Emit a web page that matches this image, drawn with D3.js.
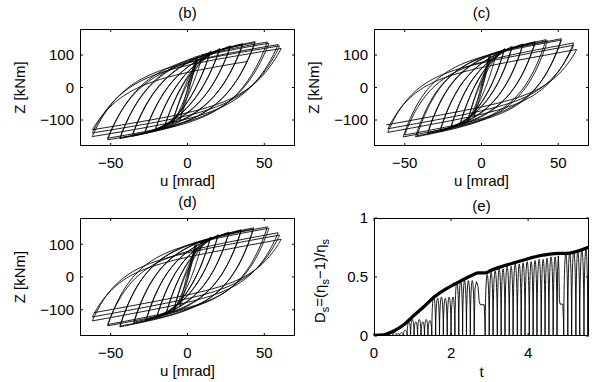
<!DOCTYPE html>
<html><head><meta charset="utf-8">
<script src="https://cdn.jsdelivr.net/npm/d3@7"></script>
<style>
body{margin:0;background:#fff;}
text{font-family:"Liberation Sans",Arial,Helvetica,sans-serif;fill:#000;}
</style>
</head><body>
<svg id="chart" width="599" height="382"></svg>
<script>
// ---------------- data ----------------
const uTicks = [-50, 0, 50];
const zTicks = [-100, 0, 100];
const tTicks = [0, 2, 4];
const dTicks = [0, 0.5, 1];
const uDomain = [-70, 70];
const zDomain = [-180, 180];
const tDomain = [0, 5.58];
const dDomain = [0, 1];

// reversal points [u (mrad), Z (kNm)] of the hysteresis loops
const revB = [[0,0],
 [6,95],[-5,-100],[7,96],
 [-10,-112],[10,103],[-10,-109],
 [15,112],[-15,-122],[15,110],[-15,-119],
 [21,120],[-21,-132],[21,117],[-21,-129],
 [28,128],[-28,-142],[28,125],[-28,-139],
 [36,135],[-36,-150],[36,132],[-36,-147],
 [44,141],[-44,-157],[44,138],[-44,-155],
 [52,140],[-52,-161],[53,136],[-52,-156],
 [59,132],[-62,-151],[60,128],[-62,-140],
 [61,120],[-62,-130],[39,80]];
const revC = [[0,0],
 [5,97],[-5,-92],[6,98],
 [-9,-105],[10,110],[-9,-102],
 [15,120],[-14,-116],[15,117],[-14,-113],
 [20,127],[-20,-125],[20,124],[-20,-122],
 [27,134],[-27,-135],[27,131],[-27,-132],
 [35,141],[-35,-142],[35,138],[-35,-139],
 [42,147],[-42,-149],[43,144],[-43,-152],
 [52,150],[-51,-152],[52,146],[-50,-146],
 [60,137],[-61,-138],[60,130],[-61,-127],
 [62,117],[-62,-115]];
const revD = [[0,0],
 [5,98],[-5,-90],[6,99],
 [-9,-103],[10,112],[-9,-100],
 [15,122],[-14,-114],[15,119],[-14,-111],
 [20,129],[-20,-123],[20,126],[-20,-120],
 [27,137],[-27,-133],[27,134],[-27,-130],
 [35,144],[-35,-141],[35,141],[-35,-138],
 [43,150],[-44,-152],[43,147],[-44,-150],
 [52,153],[-52,-149],[53,149],[-52,-145],
 [59,135],[-62,-134],[60,128],[-62,-122],
 [61,115],[-61,-109]];
// loop shape parameters per panel: [decay length (mrad), post-yield slope]
const shapeB = [19, 0.75];
const shapeC = [16, 0.85];
const shapeD = [16, 0.85];

// (e) upper envelope of D_s
const envT = [0, 0.25, 0.5, 0.79, 1.04, 1.3, 1.56, 1.87, 2.1, 2.52, 2.7, 2.9, 3.0, 3.69, 4.38, 4.77, 4.97, 5.58];
const envD = [0.005, 0.01, 0.04, 0.10, 0.175, 0.25, 0.33, 0.40, 0.44, 0.51, 0.535, 0.535, 0.55, 0.625, 0.685, 0.70, 0.70, 0.755];
// (e) oscillating D_s: arch boundaries (zeros) and arch peaks
const archZeros = [0.30,0.40,0.49,0.58,0.67,0.76,0.86,
 0.95,1.04,1.13,1.22,1.31,1.40,1.50,
 1.60,1.70,1.80,1.90,2.00,2.10,
 2.20,2.30,2.40,2.50,2.60];
const archPeaks = [0.012,0.025,0.03,0.02,0.03,0.05,
 0.12,0.14,0.12,0.14,0.12,0.14,0.13,
 0.34,0.32,0.33,0.32,0.33,0.33,
 0.46,0.47,0.47,0.47,0.47];
const hold1T = [2.60,2.62,2.66,2.70,2.73,2.76,2.86,2.875,2.885];
const hold1D = [0,0.40,0.46,0.42,0.29,0.265,0.265,0.15,0];
const archZeros2 = [2.885,2.99,3.09,3.20,3.30,3.40,3.51,3.61,3.72,3.82,3.92,4.03,4.13,4.23,4.34,4.44,4.54,4.65,4.75];
const archPeaks2 = [0.52,0.54,0.55,0.57,0.57,0.59,0.59,0.61,0.61,0.62,0.63,0.63,0.64,0.65,0.65,0.66,0.67,0.67];
const hold2T = [4.75,4.765,4.785,4.80,4.81,4.83,4.90,4.915,4.925];
const hold2D = [0,0.55,0.68,0.56,0.31,0.27,0.27,0.15,0];
const archZeros3 = [4.925,5.03,5.13,5.24,5.34,5.45,5.55,5.66];
const archPeaks3 = [0.70,0.71,0.72,0.72,0.73,0.74,0.745];

// ---------------- drawing ----------------
const svg = d3.select("#chart");
const FONT = 15;
const cols = [[80,295],[374,589]];
const rows = [[29,146],[218,336]];

function frame(g, x, y, xt, yt, xfmt, yfmt) {
  const [x0,x1] = x.range(), [y0,y1] = y.range(); // y0 bottom
  const TL = 3;
  xt.forEach(v => {
    const px = x(v);
    g.append("line").attr("x1",px).attr("x2",px).attr("y1",y0).attr("y2",y0-TL).attr("stroke","#000");
    g.append("line").attr("x1",px).attr("x2",px).attr("y1",y1).attr("y2",y1+TL).attr("stroke","#000");
    g.append("text").attr("x",px).attr("y",y0+21.5).attr("text-anchor","middle")
      .attr("font-size",FONT).text(xfmt(v));
  });
  yt.forEach(v => {
    const py = y(v);
    g.append("line").attr("x1",x0).attr("x2",x0+TL).attr("y1",py).attr("y2",py).attr("stroke","#000");
    g.append("line").attr("x1",x1).attr("x2",x1-TL).attr("y1",py).attr("y2",py).attr("stroke","#000");
    g.append("text").attr("x",x0-6).attr("y",py+5.3).attr("text-anchor","end")
      .attr("font-size",FONT).text(yfmt(v));
  });
  g.append("rect").attr("x",x0+0.5).attr("y",y1+0.5).attr("width",x1-x0-1).attr("height",y0-y1-1)
    .attr("fill","none").attr("stroke","#000").attr("stroke-width",1);
}
const numFmt = v => (v < 0 ? "\u2212" + Math.abs(v) : String(v));

function loopPoints(rev, shape) {
  const [lam, b] = shape;
  const pts = [];
  for (let i = 0; i < rev.length - 1; i++) {
    const [u0,z0] = rev[i], [u1,z1] = rev[i+1];
    const D = Math.abs(u1-u0), s = Math.sign(u1-u0) || 1;
    const dz = Math.abs(z1-z0);
    const E = Math.exp(-D/lam);
    const G = (dz - b*D)/(1-E);
    const n = 90;
    for (let k = (i ? 1 : 0); k <= n; k++) {
      const d = D*Math.pow(k/n, 1.6);
      pts.push([u0 + s*d, z0 + s*(b*d + G*(1-Math.exp(-d/lam)))]);
    }
  }
  return pts;
}

function hystPanel(col, row, rev, shape, title, id) {
  const x = d3.scaleLinear().domain(uDomain).range(cols[col]);
  const y = d3.scaleLinear().domain(zDomain).range([rows[row][1], rows[row][0]]);
  const g = svg.append("g");
  g.append("clipPath").attr("id",id).append("rect")
    .attr("x",cols[col][0]).attr("y",rows[row][0]).attr("width",cols[col][1]-cols[col][0]).attr("height",rows[row][1]-rows[row][0]);
  const line = d3.line().x(d=>x(d[0])).y(d=>y(d[1]));
  g.append("path").attr("d",line(loopPoints(rev, shape))).attr("fill","none")
    .attr("stroke","#000").attr("stroke-width",0.9).attr("stroke-linejoin","round")
    .attr("clip-path",`url(#${id})`);
  frame(g, x, y, uTicks, zTicks, numFmt, numFmt);
  const cx = (cols[col][0]+cols[col][1])/2;
  g.append("text").attr("x",cx).attr("y",rows[row][0]-11.5).attr("text-anchor","middle").attr("font-size",FONT).text(title);
  g.append("text").attr("x",cx).attr("y",rows[row][1]+39.5).attr("text-anchor","middle").attr("font-size",FONT).text("u [mrad]");
  const cy = (rows[row][0]+rows[row][1])/2;
  g.append("text").attr("transform",`translate(${cols[col][0]-55},${cy}) rotate(-90)`)
    .attr("text-anchor","middle").attr("font-size",FONT).text("Z [kNm]");
}

hystPanel(0,0,revB,shapeB,"(b)","cb");
hystPanel(1,0,revC,shapeC,"(c)","cc");
hystPanel(0,1,revD,shapeD,"(d)","cd");

// panel (e)
(function(){
  const x = d3.scaleLinear().domain(tDomain).range(cols[1]);
  const y = d3.scaleLinear().domain(dDomain).range([rows[1][1], rows[1][0]]);
  const g = svg.append("g");
  g.append("clipPath").attr("id","ce").append("rect")
    .attr("x",cols[1][0]).attr("y",rows[1][0]).attr("width",cols[1][1]-cols[1][0]).attr("height",rows[1][1]-rows[1][0]);
  const pts = [];
  function arches(zeros, peaks) {
    for (let i = 0; i < peaks.length; i++) {
      const a = zeros[i], b = zeros[i+1], p = peaks[i];
      const n = 24;
      for (let k = 0; k <= n; k++) {
        const s = k/n;
        pts.push([a + (b-a)*s, p*Math.sqrt(Math.max(0, 1 - (2*s-1)*(2*s-1)))]);
      }
    }
  }
  pts.push([0,0]);
  arches(archZeros, archPeaks);
  hold1T.forEach((t,i)=>pts.push([t,hold1D[i]]));
  arches(archZeros2, archPeaks2);
  hold2T.forEach((t,i)=>pts.push([t,hold2D[i]]));
  arches(archZeros3, archPeaks3);
  const line = d3.line().x(d=>x(d[0])).y(d=>y(d[1]));
  g.append("path").attr("d",line(pts)).attr("fill","none").attr("stroke","#000")
    .attr("stroke-width",0.9).attr("clip-path","url(#ce)");
  const envLine = d3.line().curve(d3.curveMonotoneX).x((d,i)=>x(envT[i])).y((d,i)=>y(envD[i]));
  g.append("path").attr("d",envLine(envT)).attr("fill","none").attr("stroke","#000")
    .attr("stroke-width",3.3).attr("stroke-linejoin","round").attr("clip-path","url(#ce)");
  frame(g, x, y, tTicks, dTicks, v=>String(v), v=>String(v));
  const cx = (cols[1][0]+cols[1][1])/2;
  g.append("text").attr("x",cx).attr("y",rows[1][0]-7).attr("text-anchor","middle").attr("font-size",FONT).text("(e)");
  g.append("text").attr("x",cx).attr("y",rows[1][1]+40.5).attr("text-anchor","middle").attr("font-size",FONT).text("t");
  const lbl = g.append("text").attr("transform",`translate(${cols[1][0]-49},${(rows[1][0]+rows[1][1])/2+4}) rotate(-90)`)
    .attr("text-anchor","middle").attr("font-size",FONT);
  lbl.append("tspan").text("D");
  lbl.append("tspan").attr("font-size",11).attr("dy",4).text("s");
  lbl.append("tspan").attr("dy",-4).text("=(\u03B7");
  lbl.append("tspan").attr("font-size",11).attr("dy",4).text("s");
  lbl.append("tspan").attr("dy",-4).text("\u22121)/\u03B7");
  lbl.append("tspan").attr("font-size",11).attr("dy",4).text("s");
})();
</script>
</body></html>
